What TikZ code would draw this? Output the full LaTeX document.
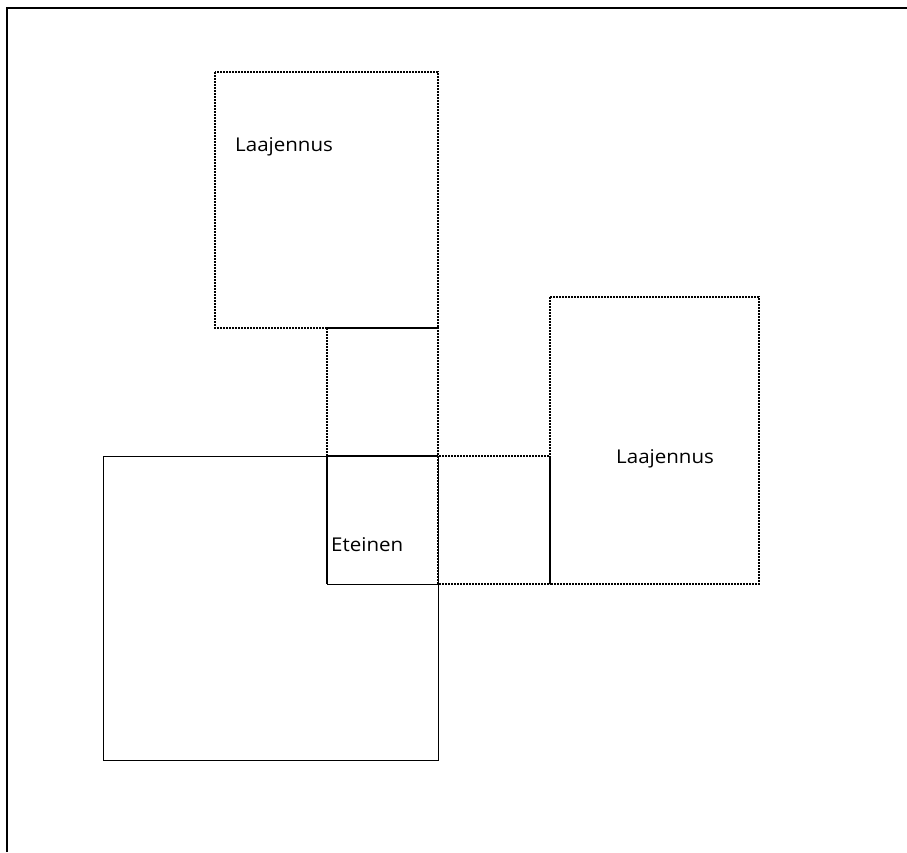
\documentclass[tikz,border=0pt]{standalone}
\usepackage{fontspec}
\setmainfont{Open Sans}
\newfontfamily\labelfont[FakeStretch=1.08]{Open Sans}
\begin{document}
\begin{tikzpicture}[x=1pt,y=-1pt,
  frameline/.style={line width=1.6pt},
  wall/.style={line width=0.9pt},
  thickwall/.style={line width=1.8pt},
  dottedwall/.style={line width=2pt, dash pattern=on 1.8pt off 1.2pt},
  lbl/.style={font=\labelfont\fontsize{19}{22}\selectfont, inner sep=0pt, anchor=base west}]
\useasboundingbox (0,0) rectangle (907,852);
\fill[white] (0,0) rectangle (907,852);
% frame
\draw[frameline] (7,852) -- (7,8) -- (907,8);
% big square
\draw[wall] (103,456) rectangle (438,760);
% top extension
\draw[dottedwall] (215,72) rectangle (438,328);
% corridor
\draw[dottedwall] (327,328) rectangle (438,456);
\draw[thickwall] (327,328) -- (438,328);
% right small connector
\draw[dottedwall] (438,456) rectangle (550,584);
\draw[thickwall] (550,456) -- (550,584);
% right extension
\draw[dottedwall] (550,297) rectangle (759,584);
% entrance
\draw[wall] (327,456) rectangle (438,584);
\draw[thickwall] (327,456) -- (438,456);
\draw[line width=1.4pt] (327,456) -- (327,584);
% labels
\node[lbl] (ext1) at (235,151) {Laajennus};
\node[lbl] (ext2) at (616,463) {Laajennus};
\node[lbl] (hall) at (331,551) {Eteinen};
\end{tikzpicture}
\end{document}
